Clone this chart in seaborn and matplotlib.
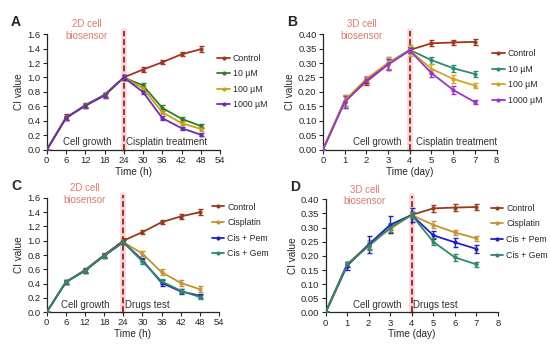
import matplotlib
matplotlib.use("Agg")
import matplotlib.pyplot as plt
import seaborn as sns
import pandas as pd

# ---- data ----
hours = [0, 6, 12, 18, 24, 30, 36, 42, 48]
days = [0, 1, 2, 3, 4, 5, 6, 7]

a_labels = ["Control", "10 \u00b5M", "100 \u00b5M", "1000 \u00b5M"]
a_values = [
    [0, 0.45, 0.61, 0.76, 1.00, 1.11, 1.21, 1.32, 1.39],
    [0, 0.44, 0.62, 0.76, 1.00, 0.89, 0.58, 0.43, 0.33],
    [0, 0.44, 0.61, 0.75, 1.00, 0.85, 0.52, 0.37, 0.29],
    [0, 0.44, 0.61, 0.75, 1.00, 0.80, 0.44, 0.30, 0.21],
]
a_err = [
    [0, 0.04, 0.03, 0.03, 0.04, 0.03, 0.03, 0.03, 0.04],
    [0, 0.03, 0.03, 0.03, 0.03, 0.03, 0.04, 0.03, 0.03],
    [0, 0.03, 0.03, 0.03, 0.03, 0.03, 0.03, 0.03, 0.03],
    [0, 0.03, 0.03, 0.03, 0.03, 0.03, 0.03, 0.02, 0.02],
]

b_labels = ["Control", "10 \u00b5M", "100 \u00b5M", "1000 \u00b5M"]
b_values = [
    [0, 0.170, 0.235, 0.295, 0.345, 0.368, 0.371, 0.373],
    [0, 0.165, 0.240, 0.300, 0.345, 0.310, 0.282, 0.262],
    [0, 0.170, 0.245, 0.300, 0.343, 0.280, 0.245, 0.222],
    [0, 0.165, 0.240, 0.295, 0.343, 0.265, 0.207, 0.165],
]
b_err = [
    [0, 0.02, 0.01, 0.02, 0.01, 0.010, 0.010, 0.010],
    [0, 0.02, 0.01, 0.02, 0.01, 0.012, 0.012, 0.010],
    [0, 0.02, 0.01, 0.02, 0.02, 0.015, 0.015, 0.008],
    [0, 0.02, 0.01, 0.02, 0.01, 0.012, 0.015, 0.008],
]

c_labels = ["Control", "Cisplatin", "Cis + Pem", "Cis + Gem"]
c_values = [
    [0, 0.42, 0.59, 0.80, 1.00, 1.12, 1.26, 1.34, 1.40],
    [0, 0.42, 0.58, 0.79, 0.98, 0.82, 0.56, 0.41, 0.32],
    [0, 0.42, 0.58, 0.79, 0.98, 0.73, 0.41, 0.29, 0.23],
    [0, 0.42, 0.58, 0.79, 0.98, 0.71, 0.43, 0.30, 0.21],
]
c_err = [
    [0, 0.03, 0.03, 0.03, 0.04, 0.03, 0.03, 0.03, 0.04],
    [0, 0.03, 0.03, 0.03, 0.03, 0.04, 0.04, 0.04, 0.04],
    [0, 0.03, 0.03, 0.03, 0.03, 0.03, 0.04, 0.04, 0.03],
    [0, 0.03, 0.03, 0.03, 0.03, 0.03, 0.03, 0.03, 0.03],
]

d_labels = ["Control", "Cisplatin", "Cis + Pem", "Cis + Gem"]
d_values = [
    [0, 0.170, 0.235, 0.300, 0.345, 0.368, 0.371, 0.373],
    [0, 0.170, 0.240, 0.295, 0.345, 0.310, 0.283, 0.262],
    [0, 0.165, 0.240, 0.310, 0.345, 0.273, 0.248, 0.225],
    [0, 0.170, 0.235, 0.300, 0.345, 0.250, 0.195, 0.170],
]
d_err = [
    [0, 0.010, 0.010, 0.010, 0.010, 0.012, 0.012, 0.010],
    [0, 0.010, 0.015, 0.015, 0.010, 0.012, 0.010, 0.010],
    [0, 0.015, 0.030, 0.030, 0.025, 0.015, 0.015, 0.015],
    [0, 0.010, 0.015, 0.015, 0.010, 0.012, 0.012, 0.008],
]

colors_a = ["#a3341e", "#2f7d2a", "#c9a114", "#6a2bb5"]
colors_b = ["#a3341e", "#2a8a74", "#d2a81a", "#9b33cc"]
colors_c = ["#9a3a1c", "#c8922e", "#1f22c9", "#2f8a6a"]
colors_d = ["#9a3a1c", "#c8922e", "#1f22c9", "#2f8a6a"]

sns.set_style("ticks")
plt.rcParams["font.family"] = ["Liberation Sans", "DejaVu Sans"]

fig = plt.figure(figsize=(5.5, 3.51), dpi=100)


def draw_panel(rect, letter, x, labels, values, errs, colors,
               xmax, xstep, ymax, ystep, yfmt, xlabel, cut,
               left_txt, left_x, right_txt, right_x, tag, tag_x, leg_pos):
    ax = fig.add_axes(rect)
    rows = []
    for lab, vals in zip(labels, values):
        for xi, v in zip(x, vals):
            rows.append({"x": xi, "CI": v, "group": lab})
    df = pd.DataFrame(rows)

    # pink band + dashed separator
    ax.axvline(cut, ymin=0, ymax=1.03, color="#f7b8c8", lw=4, alpha=0.6,
               clip_on=False, zorder=0)
    ax.axvline(cut, ymin=0, ymax=1.03, color="#a3341e", lw=1.4,
               ls=(0, (3, 1.5)), clip_on=False, zorder=1)

    for lab, vals, er, col in zip(labels, values, errs, colors):
        ax.errorbar(x, vals, yerr=er, fmt="none", ecolor=col, elinewidth=1,
                    capsize=1.8, capthick=1, zorder=2)
    sns.lineplot(data=df, x="x", y="CI", hue="group", hue_order=labels,
                 palette=colors, marker="o", markersize=3, markeredgewidth=0,
                 lw=1.3, ax=ax, zorder=3)

    ax.set_xlim(0, xmax)
    ax.set_ylim(0, ymax)
    ax.set_xticks([i * xstep for i in range(int(round(xmax / xstep)) + 1)])
    n = int(round(ymax / ystep))
    ax.set_yticks([i * ystep for i in range(n + 1)])
    ax.set_yticklabels([yfmt.format(i * ystep) for i in range(n + 1)])
    ax.tick_params(labelsize=6.8, length=3, width=0.8, pad=1.5)
    ax.set_xlabel(xlabel, fontsize=7.2, labelpad=1)
    ax.set_ylabel("CI value", fontsize=7.2, labelpad=2)
    sns.despine(ax=ax)
    for s in ["left", "bottom"]:
        ax.spines[s].set_linewidth(0.9)

    ax.text(left_x, 0.065 * ymax, left_txt, ha="center", va="center",
            fontsize=7, color="#333333")
    ax.text(right_x, 0.065 * ymax, right_txt, ha="center", va="center",
            fontsize=7, color="#333333")
    ax.text(tag_x, ymax * 1.035, tag, ha="center", va="center", fontsize=7,
            color="#e07a6a", linespacing=1.2, clip_on=False)

    leg = ax.legend(loc="upper left", bbox_to_anchor=leg_pos, frameon=False,
                    fontsize=6.3, handlelength=1.4, handletextpad=0.35,
                    labelspacing=0.75, borderaxespad=0, borderpad=0)
    for h in leg.legend_handles:
        h.set_linewidth(1.3)

    fig.text(rect[0] - 0.065, rect[1] + rect[3] + 0.035, letter, fontsize=10,
             fontweight="bold", ha="left", va="center")
    return ax


draw_panel([0.085, 0.573, 0.315, 0.33], "A", hours, a_labels, a_values, a_err,
           colors_a, 54, 6, 1.6, 0.2, "{:.1f}", "Time (h)", 24,
           "Cell growth", 12.5, "Cisplatin treatment", 37.5,
           "2D cell\nbiosensor", 12.5, (0.985, 0.83))
draw_panel([0.587, 0.573, 0.316, 0.33], "B", days, b_labels, b_values, b_err,
           colors_b, 8, 1, 0.40, 0.05, "{:.2f}", "Time (day)", 4,
           "Cell growth", 2.5, "Cisplatin treatment", 6.15,
           "3D cell\nbiosensor", 1.8, (0.975, 0.87))
draw_panel([0.085, 0.111, 0.313, 0.325], "C", hours, c_labels, c_values, c_err,
           colors_c, 54, 6, 1.6, 0.2, "{:.1f}", "Time (h)", 24,
           "Cell growth", 12, "Drugs test", 31.5,
           "2D cell\nbiosensor", 12, (0.96, 0.96))
draw_panel([0.592, 0.11, 0.313, 0.322], "D", days, d_labels, d_values, d_err,
           colors_d, 8, 1, 0.40, 0.05, "{:.2f}", "Time (day)", 4,
           "Cell growth", 2.4, "Drugs test", 5.1,
           "3D cell\nbiosensor", 1.8, (0.96, 0.96))

fig.savefig("out.png", dpi=100)
